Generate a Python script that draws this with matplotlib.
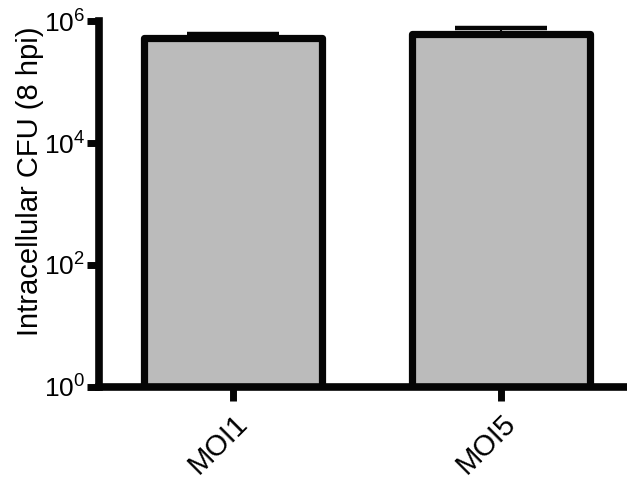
import matplotlib
matplotlib.use("Agg")
from matplotlib import pyplot as plt
from matplotlib.ticker import FixedLocator, FuncFormatter, NullLocator

# Intracellular bacterial load at 8 hpi, mean and upper error
groups = ["MOI1", "MOI5"]
cfu_mean = [5.2e5, 6.1e5]
cfu_err = [1.0e5, 1.6e5]
y_ticks = [1e0, 1e2, 1e4, 1e6]

EDGE = "#050505"
FILL = "#bbbbbb"

plt.rcParams['font.family'] = ['Liberation Sans', 'DejaVu Sans']

fig = plt.figure(figsize=(6.27, 4.8), dpi=100)
ax = fig.add_axes([0.158, 0.194, 0.842, 0.762])

x = list(range(len(groups)))
ax.bar(x, cfu_mean, width=0.664, color=FILL, edgecolor=EDGE, linewidth=5.2,
       joinstyle='round', zorder=2)
ax.errorbar(x, cfu_mean, yerr=[[0] * len(x), cfu_err], fmt='none', ecolor=EDGE,
            elinewidth=1.5, capsize=33, capthick=3.2, zorder=1)

ax.set_yscale('log')
ax.set_ylim(1, 1e6)
ax.set_xlim(-0.5, 1.47)

ax.yaxis.set_major_locator(FixedLocator(y_ticks))
ax.yaxis.set_minor_locator(NullLocator())
ax.yaxis.set_major_formatter(FuncFormatter(
    lambda v, pos: r"$\mathregular{10^{%d}}$" % round(__import__('math').log10(v))))

ax.set_xticks(x)
ax.set_xticklabels(groups, rotation=45, ha='right', rotation_mode='anchor',
                   fontsize=21)

for side in ['top', 'right']:
    ax.spines[side].set_visible(False)
for side in ['left', 'bottom']:
    ax.spines[side].set_linewidth(5.5)
    ax.spines[side].set_color(EDGE)
    ax.spines[side].set_capstyle('projecting')

ax.tick_params(axis='y', length=9, width=5, color=EDGE, pad=1, labelsize=19)
ax.tick_params(axis='x', length=10, width=5, color=EDGE, pad=6)
for lbl in ax.get_yticklabels():
    lbl.set_family(['Liberation Sans Narrow', 'Liberation Sans'])

ax.set_ylabel("Intracellular CFU (8 hpi)", fontsize=21)
ax.yaxis.set_label_coords(-0.105, 0.563)

fig.savefig("out.png", dpi=100)
